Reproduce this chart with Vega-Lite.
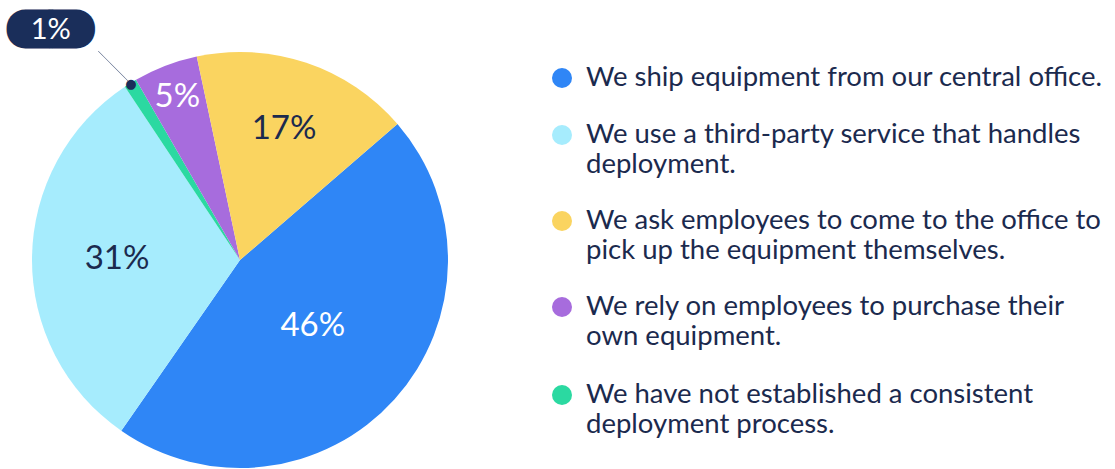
{
  "$schema": "https://vega.github.io/schema/vega-lite/v6.json",
  "padding": {"left": 23, "top": 14, "right": 0, "bottom": 0},
  "bounds": "flush",
  "spacing": 103,
  "config": {"view": {"stroke": null}, "text": {"font": "Lato"}},
  "datasets": {
    "survey": [
      {"answer": "We ship equipment from our central office.", "share": 0.46, "slice": 1, "item": 1},
      {"answer": "We use a third-party service that handles\ndeployment.", "share": 0.31, "slice": 2, "item": 2},
      {"answer": "We have not established a consistent\ndeployment process.", "share": 0.01, "slice": 3, "item": 5},
      {"answer": "We rely on employees to purchase their\nown equipment.", "share": 0.05, "slice": 4, "item": 4},
      {"answer": "We ask employees to come to the office to\npick up the equipment themselves.", "share": 0.17, "slice": 5, "item": 3}
    ]
  },
  "hconcat": [
    {
      "width": 418,
      "height": 418,
      "data": {"name": "survey"},
      "encoding": {
        "theta": {"field": "share", "type": "quantitative", "stack": true, "scale": {"range": [0.8587, 7.1419]}},
        "order": {"field": "slice", "type": "quantitative"}
      },
      "resolve": {"scale": {"radius": "independent"}},
      "layer": [
        {
          "mark": {"type": "arc", "outerRadius": 208},
          "encoding": {
            "color": {
              "field": "answer", "type": "nominal", "legend": null,
              "scale": {
                "domain": [
                  "We ship equipment from our central office.",
                  "We use a third-party service that handles\ndeployment.",
                  "We have not established a consistent\ndeployment process.",
                  "We rely on employees to purchase their\nown equipment.",
                  "We ask employees to come to the office to\npick up the equipment themselves."
                ],
                "range": ["#2F86F6", "#A6ECFD", "#2BD9A1", "#A76CDD", "#FAD460"]
              }
            }
          }
        },
        {
          "mark": {"type": "text", "font": "Lato", "fontSize": 33, "align": "center", "baseline": "middle"},
          "encoding": {
            "detail": {"field": "answer"},
            "radius": {"field": "share", "type": "quantitative", "scale": {"type": "linear", "zero": false, "nice": false, "domain": [0.05, 0.17, 0.31, 0.46], "range": [175, 138, 123, 98]}},
            "text": {"condition": {"test": "datum.slice == 3", "value": ""}, "field": "share", "type": "quantitative", "format": ".0%"},
            "color": {"condition": {"test": "datum.slice == 2 || datum.slice == 5", "value": "#1B2A4E"}, "value": "#FFFFFF"}
          }
        },
        {
          "mark": {"type": "text", "font": "DejaVu Sans", "fontSize": 27, "align": "center", "baseline": "middle", "fill": "#1A2E5A", "stroke": "#1A2E5A", "strokeWidth": 37, "strokeJoin": "round", "dx": -47, "dy": -2.5},
          "encoding": {
            "detail": {"field": "answer"},
            "radius": {"field": "share", "type": "quantitative", "scale": {"type": "linear", "zero": false, "nice": false, "clamp": true, "domain": [0.01, 0.02], "range": [270, 0]}},
            "text": {"condition": {"test": "datum.slice == 3", "value": "——"}, "value": ""}
          }
        },
        {
          "mark": {"type": "text", "font": "Lato", "fontSize": 29, "align": "center", "baseline": "middle", "fill": "#FFFFFF", "dx": -47, "dy": -1},
          "encoding": {
            "detail": {"field": "answer"},
            "radius": {"field": "share", "type": "quantitative", "scale": {"type": "linear", "zero": false, "nice": false, "clamp": true, "domain": [0.01, 0.02], "range": [270, 0]}},
            "text": {"condition": {"test": "datum.slice != 3", "value": ""}, "field": "share", "type": "quantitative", "format": ".0%"}
          }
        },
        {
          "mark": {"type": "text", "font": "Lato", "fontWeight": 100, "fontSize": 50, "angle": 315, "align": "center", "baseline": "middle", "fill": "#1A2E5A", "dx": -5, "dy": -1.5},
          "encoding": {
            "detail": {"field": "answer"},
            "radius": {"field": "share", "type": "quantitative", "scale": {"type": "linear", "zero": false, "nice": false, "clamp": true, "domain": [0.01, 0.02], "range": [230, 0]}},
            "text": {"condition": {"test": "datum.slice == 3", "value": "|"}, "value": ""}
          }
        },
        {
          "mark": {"type": "text", "font": "DejaVu Sans", "fontSize": 13, "align": "center", "baseline": "middle", "fill": "#1A2E5A"},
          "encoding": {
            "detail": {"field": "answer"},
            "radius": {"field": "share", "type": "quantitative", "scale": {"type": "linear", "zero": false, "nice": false, "clamp": true, "domain": [0.01, 0.02], "range": [207, 0]}},
            "text": {"condition": {"test": "datum.slice == 3", "value": "●"}, "value": ""}
          }
        }
      ]
    },
    {
      "width": 20,
      "height": 418,
      "data": {"name": "survey"},
      "encoding": {
        "y": {"field": "item", "type": "quantitative", "axis": null, "scale": {"domain": [1, 2, 3, 4, 5], "range": [27, 84, 170, 256, 344], "zero": false, "nice": false}}
      },
      "layer": [
        {
          "mark": {"type": "circle", "size": 400, "opacity": 1},
          "encoding": {
            "color": {
              "field": "answer", "type": "nominal", "legend": null,
              "scale": {
                "domain": [
                  "We ship equipment from our central office.",
                  "We use a third-party service that handles\ndeployment.",
                  "We have not established a consistent\ndeployment process.",
                  "We rely on employees to purchase their\nown equipment.",
                  "We ask employees to come to the office to\npick up the equipment themselves."
                ],
                "range": ["#2F86F6", "#A6ECFD", "#2BD9A1", "#A76CDD", "#FAD460"]
              }
            }
          }
        },
        {
          "mark": {"type": "text", "font": "Lato", "fontSize": 27.5, "align": "left", "baseline": "middle", "dx": 24, "lineHeight": 30, "lineBreak": "\n", "fill": "#1B2A4E"},
          "encoding": {"text": {"field": "answer"}}
        }
      ]
    }
  ]
}
